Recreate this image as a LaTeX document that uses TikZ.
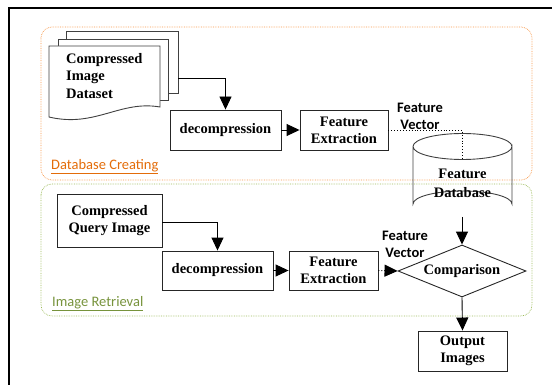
\documentclass[tikz,border=0pt]{standalone}
\usepackage{fontspec}
\setmainfont{Liberation Serif}
\newfontfamily\calib{Carlito}
\usetikzlibrary{arrows.meta,shapes.geometric}
\definecolor{orgline}{HTML}{F79646}
\definecolor{orgtext}{HTML}{E36C09}
\definecolor{grnline}{HTML}{9BBB59}
\definecolor{grntext}{HTML}{77933C}
\tikzset{
  boxnode/.style={draw=black!85, line width=0.9pt, fill=white, inner sep=0pt, align=center,
    font=\fontsize{14.5}{17}\selectfont\bfseries},
  lbl/.style={inner sep=0pt, align=center, font=\calib\fontsize{14.5}{17}\selectfont\bfseries},
  arr/.style={line width=0.9pt, -{Triangle[length=13pt,width=12pt]}},
  dotline/.style={line width=0.9pt, dotted},
  region/.style={rounded corners=11pt, line width=0.7pt, densely dotted},
}
\begin{document}
\begin{tikzpicture}[x=1pt,y=-1pt]
\useasboundingbox (0,0) rectangle (552,385);
% frame
\draw[line width=2pt] (9,385) -- (9,8) -- (552,8);
% regions
\draw[region, draw=orgline] (41,27) rectangle (532,180);
\draw[region, draw=grnline] (41,184) rectangle (532,316);
\node[anchor=west, inner sep=0pt, text=orgtext, font=\calib\fontsize{14.5}{17}\selectfont] (dbc) at (51,167) {\underline{Database Creating}};
\node[anchor=west, inner sep=0pt, text=grntext, font=\calib\fontsize{14.5}{17}\selectfont] (ir) at (52,304) {\underline{Image Retrieval}};
% document stack
\draw[line width=0.9pt, draw=black!75, fill=white] (66,31) rectangle (178,93);
\draw[line width=0.9pt, draw=black!75, fill=white] (58,39) rectangle (168,100);
\draw[line width=0.9pt, draw=black!75, fill=white] (49,46) -- (160,46) -- (160,107)
  .. controls (120,100) and (95,128) .. (49,117) -- cycle;
\node[anchor=north west, inner sep=0pt, align=left, font=\fontsize{14.5}{17.5}\selectfont\bfseries] (doc) at (66,53) {Compressed\\Image\\Dataset};
\coordinate (docout) at (178,78);
% boxes
\node[boxnode, minimum width=111pt, minimum height=40pt] (dec1) at (225.5,130) {decompression};
\node[boxnode, minimum width=88pt, minimum height=40pt] (fe1) at (344,130) {Feature\\Extraction};
\node[lbl] (fv1) at (420,116.5) {Feature\\Vector};
% cylinder
\draw[line width=0.9pt, draw=black!75] (413,146.5) -- (413,204) arc[start angle=180, end angle=360, x radius=49.5, y radius=13] -- (512,146.5) arc[start angle=0, end angle=360, x radius=49.5, y radius=13];
\node[inner sep=0pt, align=center, font=\fontsize{14.5}{19}\selectfont\bfseries] (db) at (462.5,183) {Feature\\Database};
\coordinate (dbtop) at (462,159.5);
\coordinate (dbbot) at (462,217);
% diamond
\node[draw=black!85, line width=0.9pt, diamond, aspect=2.46, minimum width=128pt, minimum height=52pt, inner sep=0pt, font=\fontsize{14.5}{17}\selectfont\bfseries] (cmp) at (462,271) {\raisebox{3pt}{Comparison}};
\node[boxnode, minimum width=89pt, minimum height=40pt] (out) at (462.5,351) {Output\\Images};
\node[boxnode, minimum width=105pt, minimum height=53pt] (q) at (109.5,220.5) {Compressed\\Query Image};
\node[boxnode, minimum width=111pt, minimum height=39pt] (dec2) at (217.5,270.5) {decompression};
\node[boxnode, minimum width=89pt, minimum height=39pt] (fe2) at (333.5,270.5) {Feature\\Extraction};
\node[lbl] (fv2) at (405,244) {Feature\\Vector};
% connectors
\draw[arr] (docout) -| (dec1.north);
\draw[arr] (dec1) -- (fe1);
\draw[dotline] (fe1.east) -| (dbtop);
\draw[arr] (dbbot) -- (cmp.north);
\draw[arr] (q.east |- 0,222) -| (dec2.north);
\draw[arr] (dec2) -- (fe2);
\draw[dotline, -{Triangle[length=13pt,width=12pt]}] (fe2.east) -- (cmp.west);
\draw[arr] (cmp.south) -- (out.north);
\end{tikzpicture}
\end{document}
